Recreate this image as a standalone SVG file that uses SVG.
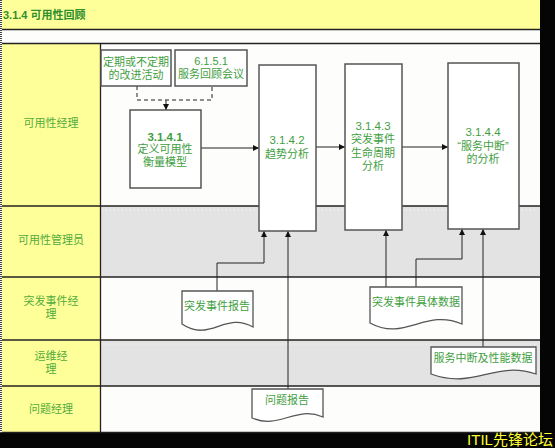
<svg xmlns="http://www.w3.org/2000/svg" width="555" height="448" viewBox="0 0 555 448">
<style>
  text{font-family:"Liberation Sans","Noto Sans CJK SC",sans-serif;font-size:11px;fill:#3f9e3f;text-anchor:middle;dominant-baseline:central}
  .lane{fill:#52ac3c}
  .title{font-weight:bold;text-anchor:start;fill:#2f8f2f}
  .box{fill:#fff;stroke:#555;stroke-width:1.5}
  .doc{fill:#fff;stroke:#555;stroke-width:1.3}
  .ln{stroke:#222;stroke-width:1.3;fill:none}
  .con{stroke:#222;stroke-width:1;fill:none;marker-end:url(#ah)}
  .num{font-size:11.5px}
</style>
<defs>
  <marker id="ah" viewBox="0 0 10 10" refX="10" refY="5" markerWidth="6" markerHeight="6" markerUnits="userSpaceOnUse" orient="auto">
    <path d="M0,0 L10,5 L0,10 z" fill="#111"/>
  </marker>
</defs>
<rect width="555" height="448" fill="#050505"/>
<rect x="0" y="0" width="540" height="433" fill="#fdfdfb"/>
<rect x="2" y="0" width="538" height="29" fill="#ffff99"/>
<rect x="2" y="43" width="98" height="390" fill="#ffff99"/>
<rect x="101" y="206" width="439" height="71" fill="#e3e3e3"/>
<rect x="101" y="340" width="439" height="46" fill="#e3e3e3"/>
<line x1="102" y1="210" x2="536" y2="210" stroke="#fff" stroke-dasharray="1,3"/>
<line x1="102" y1="344" x2="536" y2="344" stroke="#fff" stroke-dasharray="1,3"/>
<line x1="1" y1="0" x2="1" y2="433" stroke="#444" stroke-width="2" stroke-dasharray="1,1"/>
<g class="ln">
  <path d="M2,29.5 H540"/>
  <path d="M2,43.5 H540"/>
  <path d="M2,206 H540"/>
  <path d="M2,277 H540"/>
  <path d="M2,340 H540"/>
  <path d="M2,386 H540"/>
  <path d="M2,432.5 H540"/>
  <path d="M100.5,43 V433"/>
</g>
<text class="title" x="3" y="15">3.1.4 可用性回顾</text>
<g id="lanes">
  <text class="lane" x="51" y="123">可用性经理</text>
  <text class="lane" x="51" y="240">可用性管理员</text>
  <text class="lane" x="51" y="301">突发事件经</text>
  <text class="lane" x="51" y="314">理</text>
  <text class="lane" x="51" y="356">运维经</text>
  <text class="lane" x="51" y="369">理</text>
  <text class="lane" x="51" y="409">问题经理</text>
</g>
<g id="connectors">
  <path d="M137,86 V100 H212 V86" stroke="#222" stroke-width="1" fill="none" stroke-dasharray="4,3"/>
  <path class="con" d="M166,100 V110"/>
  <path class="con" d="M201,148 H259"/>
  <path class="con" d="M316,147 H345"/>
  <path class="con" d="M402,147 H448"/>
  <path class="con" d="M217,291 V263 H264 V231"/>
  <path class="con" d="M288,389 V231"/>
  <path class="con" d="M386,287 V230"/>
  <path class="con" d="M416,287 V259 H462 V229"/>
  <path class="con" d="M483,347 V229"/>
</g>
<g id="n-improve">
  <rect class="box" x="101" y="50" width="70" height="36"/>
  <text x="136" y="62">定期或不定期</text>
  <text x="136" y="75">的改进活动</text>
</g>
<g id="n-6151">
  <rect class="box" x="175" y="50" width="72" height="36"/>
  <text x="211" y="61">6.1.5.1</text>
  <text x="211" y="74">服务回顾会议</text>
</g>
<g id="n-3141">
  <rect class="box" x="130" y="110" width="71" height="78"/>
  <text class="num" x="165" y="137" font-weight="bold">3.1.4.1</text>
  <text x="165" y="149">定义可用性</text>
  <text x="165" y="162">衡量模型</text>
</g>
<g id="n-3142">
  <rect class="box" x="259" y="65" width="57" height="166"/>
  <text class="num" x="287" y="140">3.1.4.2</text>
  <text x="287" y="154">趋势分析</text>
</g>
<g id="n-3143">
  <rect class="box" x="345" y="64" width="57" height="166"/>
  <text class="num" x="373" y="126">3.1.4.3</text>
  <text x="373" y="139">突发事件</text>
  <text x="373" y="153">生命周期</text>
  <text x="373" y="166">分析</text>
</g>
<g id="n-3144">
  <rect class="box" x="448" y="63" width="71" height="166"/>
  <text class="num" x="483" y="132">3.1.4.4</text>
  <text x="483" y="146">“服务中断”</text>
  <text x="483" y="159">的分析</text>
</g>
<g id="d-incident-report">
  <path class="doc" d="M182,291 H253 V327 C225,311 210,343 182,324 Z"/>
  <text x="217" y="306">突发事件报告</text>
</g>
<g id="d-incident-data">
  <path class="doc" d="M370,287 H462 V324 C425,308 405,342 370,323 Z"/>
  <text x="416" y="302">突发事件具体数据</text>
</g>
<g id="d-outage-data">
  <path class="doc" d="M431,347 H536 V374 C495,360 475,390 431,374 Z"/>
  <text x="483" y="358">服务中断及性能数据</text>
</g>
<g id="d-problem-report">
  <path class="doc" d="M252,389 H323 V417 C295,405 280,430 252,418 Z"/>
  <text x="287" y="400">问题报告</text>
</g>
<text x="510" y="439" style="fill:#ffff33;font-size:15px">ITIL先锋论坛</text>
</svg>
